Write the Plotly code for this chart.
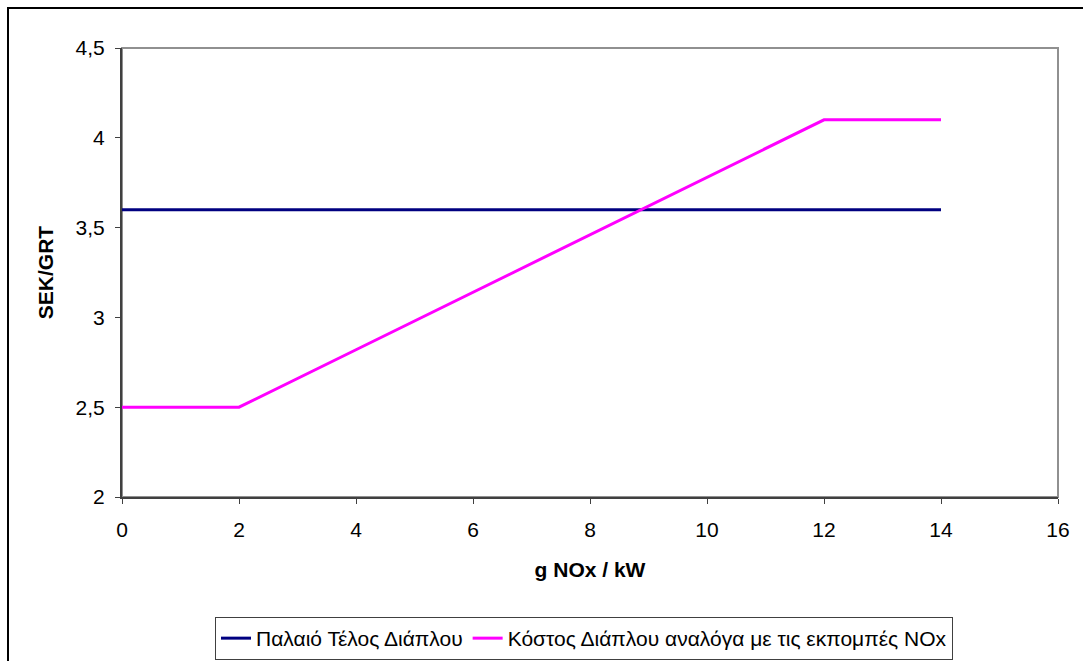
import plotly.graph_objects as go

x_vals = [0, 2, 4, 6, 8, 10, 12, 14]
old_fee = [3.6, 3.6, 3.6, 3.6, 3.6, 3.6, 3.6, 3.6]
nox_fee = [2.5, 2.5, 2.82, 3.14, 3.46, 3.78, 4.1, 4.1]
name_old = "Παλαιό Τέλος Διάπλου"
name_nox = "Κόστος Διάπλου αναλόγα με τις εκπομπές NOx"

W, H = 1083, 661
L, R, T, B = 122, 1058, 48, 497
pw, ph = R - L, B - T

fig = go.Figure()
fig.add_trace(go.Scatter(x=x_vals, y=old_fee, mode="lines", name=name_old,
                         line=dict(color="#000080", width=3)))
fig.add_trace(go.Scatter(x=x_vals, y=nox_fee, mode="lines", name=name_nox,
                         line=dict(color="#FF00FF", width=3)))

font = "Liberation Sans, Arial, sans-serif"
fig.update_layout(
    width=W, height=H,
    margin=dict(l=L, r=W - R, t=T, b=H - B, pad=0, autoexpand=False),
    paper_bgcolor="white", plot_bgcolor="white",
    separators=",.",
    font=dict(family=font, size=21, color="black"),
    showlegend=True,
    legend=dict(orientation="h", x=(584 - L) / pw, xanchor="center",
                y=(B - 617) / ph, yanchor="top",
                bordercolor="#404040", borderwidth=1,
                font=dict(size=21), itemwidth=30, tracegroupgap=0),
    xaxis=dict(range=[0, 16], dtick=2, tick0=0, showgrid=False, zeroline=False,
               showline=True, linecolor="#404040", linewidth=2,
               ticks="outside", ticklen=5, tickcolor="#404040",
               ticklabelstandoff=8, automargin=False,
               title=dict(text="<b>g NOx / kW</b>", font=dict(size=21), standoff=22)),
    yaxis=dict(range=[2, 4.5], dtick=0.5, tick0=2, showgrid=False, zeroline=False,
               showline=True, linecolor="#404040", linewidth=2,
               ticks="outside", ticklen=5, tickcolor="#404040",
               ticklabelstandoff=6, automargin=False,
               title=dict(text="<b>SEK/GRT</b>", font=dict(size=21), standoff=16)),
    shapes=[
        dict(type="rect", xref="paper", yref="paper", x0=0, x1=1, y0=0, y1=1,
             line=dict(color="#909090", width=2), layer="below"),
        dict(type="rect", xref="paper", yref="paper",
             x0=(8 - L) / pw, x1=(1100 - L) / pw,
             y0=(B - 680) / ph, y1=(B - 8) / ph,
             line=dict(color="black", width=2), layer="below"),
    ],
)

fig.write_html("out.html")
